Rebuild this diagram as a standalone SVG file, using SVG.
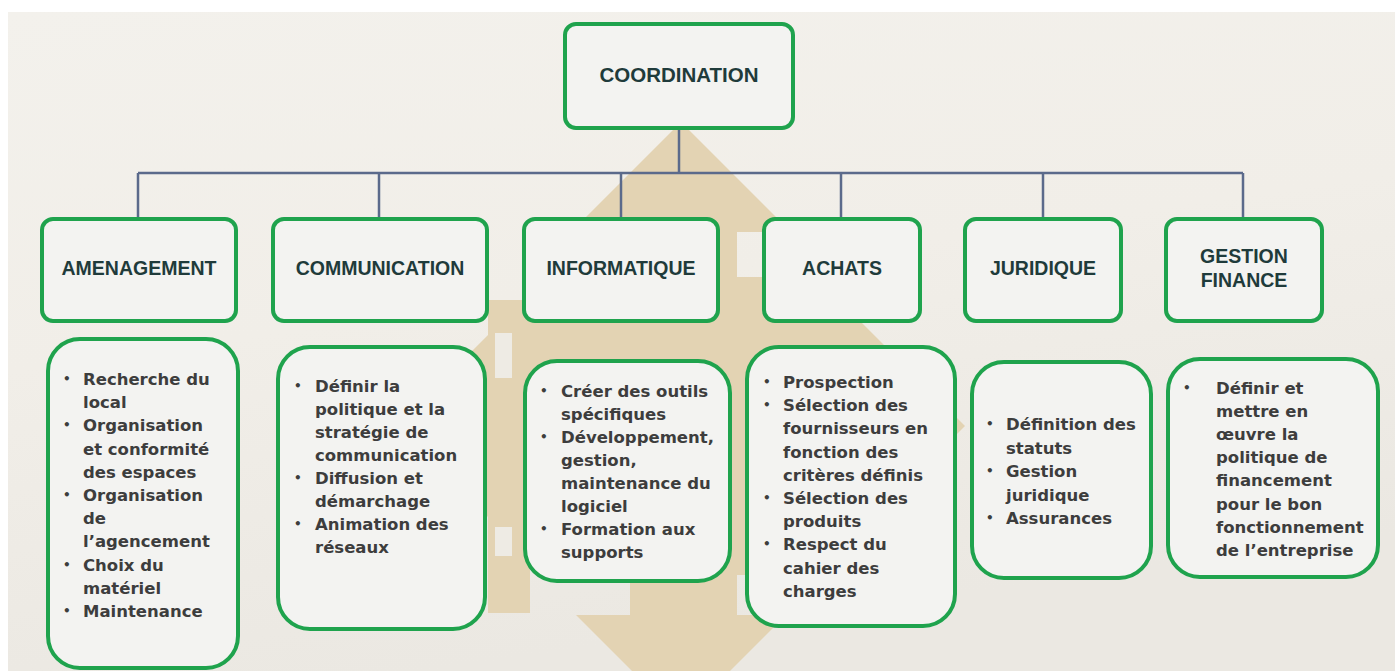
<svg xmlns="http://www.w3.org/2000/svg" width="1395" height="671" viewBox="0 0 1395 671">
  <defs>
    <linearGradient id="bg" x1="0" y1="0" x2="0.3" y2="1">
      <stop offset="0" stop-color="#f3f1ec"/>
      <stop offset="0.5" stop-color="#f1eee8"/>
      <stop offset="1" stop-color="#ebe8e2"/>
    </linearGradient>
    <style>
      .box { fill: #f3f3f1; stroke: #1fa34d; stroke-width: 4; }
      .hdr { font-family: "Liberation Sans", Arial, sans-serif; font-weight: bold; font-size: 19.5px; fill: #1f3b3b; text-anchor: middle; }
      .body { font-family: "DejaVu Sans", Verdana, sans-serif; font-weight: bold; font-size: 16.5px; fill: #3d3d3d; }
      .bul { font-family: "DejaVu Sans", Verdana, sans-serif; font-weight: bold; font-size: 12px; fill: #3d3d3d; }
      .conn { fill: none; stroke: #5b6a8b; stroke-width: 2.5; }
      .deco { fill: #e3d3b3; }
      .patch { fill: #eeebe4; }
    </style>
  </defs>

  <!-- background -->
  <rect x="0" y="0" width="1395" height="671" fill="#ffffff"/>
  <rect x="8" y="12" width="1387" height="659" fill="url(#bg)"/>

  <!-- decorative arrows -->
  <g id="decoration">
    <polygon class="deco" points="681,122 791,232 737,232 737,615 786,615 681,720 576,615 630,615 630,232 571,232"/>
    <polygon class="deco" points="397,426 546,277 816,277 965,426 816,575 546,575"/>
    <rect class="deco" x="488" y="300" width="42" height="313"/>
    <rect class="patch" x="495" y="333" width="17" height="45"/>
    <rect class="patch" x="495" y="527" width="17" height="29"/>
  </g>

  <!-- connectors -->
  <g id="connectors">
    <path class="conn" d="M679,128 V173"/>
    <path class="conn" d="M138,173 H1243"/>
    <path class="conn" d="M138,173 V219"/>
    <path class="conn" d="M379,173 V219"/>
    <path class="conn" d="M621,173 V219"/>
    <path class="conn" d="M841,173 V219"/>
    <path class="conn" d="M1043,173 V219"/>
    <path class="conn" d="M1243,173 V219"/>
  </g>

  <g id="coordination">
    <rect class="box" x="565" y="24" width="228" height="104" rx="11"/>
    <text class="hdr" x="679" y="82" style="font-size:20.5px">COORDINATION</text>
  </g>

  <g id="amenagement">
    <rect class="box" x="42" y="219" width="194" height="102" rx="11"/>
    <text class="hdr" x="139" y="275">AMENAGEMENT</text>
  </g>
  <g id="communication">
    <rect class="box" x="273" y="219" width="214" height="102" rx="11"/>
    <text class="hdr" x="380" y="275">COMMUNICATION</text>
  </g>
  <g id="informatique">
    <rect class="box" x="524" y="219" width="194" height="102" rx="11"/>
    <text class="hdr" x="621" y="275">INFORMATIQUE</text>
  </g>
  <g id="achats">
    <rect class="box" x="764" y="219" width="156" height="102" rx="11"/>
    <text class="hdr" x="842" y="275">ACHATS</text>
  </g>
  <g id="juridique">
    <rect class="box" x="965" y="219" width="156" height="102" rx="11"/>
    <text class="hdr" x="1043" y="275">JURIDIQUE</text>
  </g>
  <g id="gestion-finance">
    <rect class="box" x="1166" y="219" width="156" height="102" rx="11"/>
    <text class="hdr" x="1244" y="263">GESTION</text>
    <text class="hdr" x="1244" y="287">FINANCE</text>
  </g>

  <g id="amenagement-details">
    <rect class="box" x="48" y="339" width="190" height="329" rx="32"/>
    <text class="bul" x="63" y="383">•</text>
    <text class="body" x="83" y="385">Recherche du</text>
    <text class="body" x="83" y="408.2">local</text>
    <text class="bul" x="63" y="429.4">•</text>
    <text class="body" x="83" y="431.4">Organisation</text>
    <text class="body" x="83" y="454.6">et conformité</text>
    <text class="body" x="83" y="477.8">des espaces</text>
    <text class="bul" x="63" y="499">•</text>
    <text class="body" x="83" y="501">Organisation</text>
    <text class="body" x="83" y="524.2">de</text>
    <text class="body" x="83" y="547.4">l’agencement</text>
    <text class="bul" x="63" y="568.6">•</text>
    <text class="body" x="83" y="570.6">Choix du</text>
    <text class="body" x="83" y="593.8">matériel</text>
    <text class="bul" x="63" y="615">•</text>
    <text class="body" x="83" y="617">Maintenance</text>
  </g>

  <g id="communication-details">
    <rect class="box" x="278" y="347" width="207" height="282" rx="32"/>
    <text class="bul" x="294" y="390">•</text>
    <text class="body" x="315" y="392">Définir la</text>
    <text class="body" x="315" y="415">politique et la</text>
    <text class="body" x="315" y="438">stratégie de</text>
    <text class="body" x="315" y="461">communication</text>
    <text class="bul" x="294" y="482">•</text>
    <text class="body" x="315" y="484">Diffusion et</text>
    <text class="body" x="315" y="507">démarchage</text>
    <text class="bul" x="294" y="528">•</text>
    <text class="body" x="315" y="530">Animation des</text>
    <text class="body" x="315" y="553">réseaux</text>
  </g>

  <g id="informatique-details">
    <rect class="box" x="525" y="361" width="205" height="220" rx="32"/>
    <text class="bul" x="540" y="395">•</text>
    <text class="body" x="561" y="397">Créer des outils</text>
    <text class="body" x="561" y="420">spécifiques</text>
    <text class="bul" x="540" y="441">•</text>
    <text class="body" x="561" y="443">Développement,</text>
    <text class="body" x="561" y="466">gestion,</text>
    <text class="body" x="561" y="489">maintenance du</text>
    <text class="body" x="561" y="512">logiciel</text>
    <text class="bul" x="540" y="533">•</text>
    <text class="body" x="561" y="535">Formation aux</text>
    <text class="body" x="561" y="558">supports</text>
  </g>

  <g id="achats-details">
    <rect class="box" x="747" y="347" width="208" height="279" rx="32"/>
    <text class="bul" x="763" y="386">•</text>
    <text class="body" x="783" y="388">Prospection</text>
    <text class="bul" x="763" y="409.2">•</text>
    <text class="body" x="783" y="411.2">Sélection des</text>
    <text class="body" x="783" y="434.4">fournisseurs en</text>
    <text class="body" x="783" y="457.6">fonction des</text>
    <text class="body" x="783" y="480.8">critères définis</text>
    <text class="bul" x="763" y="502">•</text>
    <text class="body" x="783" y="504">Sélection des</text>
    <text class="body" x="783" y="527.2">produits</text>
    <text class="bul" x="763" y="548.4">•</text>
    <text class="body" x="783" y="550.4">Respect du</text>
    <text class="body" x="783" y="573.6">cahier des</text>
    <text class="body" x="783" y="596.8">charges</text>
  </g>

  <g id="juridique-details">
    <rect class="box" x="972" y="362" width="179" height="216" rx="32"/>
    <text class="bul" x="986" y="428">•</text>
    <text class="body" x="1006" y="430">Définition des</text>
    <text class="body" x="1006" y="453.5">statuts</text>
    <text class="bul" x="986" y="475">•</text>
    <text class="body" x="1006" y="477">Gestion</text>
    <text class="body" x="1006" y="500.5">juridique</text>
    <text class="bul" x="986" y="522">•</text>
    <text class="body" x="1006" y="524">Assurances</text>
  </g>

  <g id="gestion-finance-details">
    <rect class="box" x="1168" y="359" width="210" height="218" rx="32"/>
    <text class="bul" x="1183" y="392">•</text>
    <text class="body" x="1216" y="394">Définir et</text>
    <text class="body" x="1216" y="417.1">mettre en</text>
    <text class="body" x="1216" y="440.2">œuvre la</text>
    <text class="body" x="1216" y="463.3">politique de</text>
    <text class="body" x="1216" y="486.4">financement</text>
    <text class="body" x="1216" y="509.5">pour le bon</text>
    <text class="body" x="1216" y="532.6">fonctionnement</text>
    <text class="body" x="1216" y="555.7">de l’entreprise</text>
  </g>
</svg>
